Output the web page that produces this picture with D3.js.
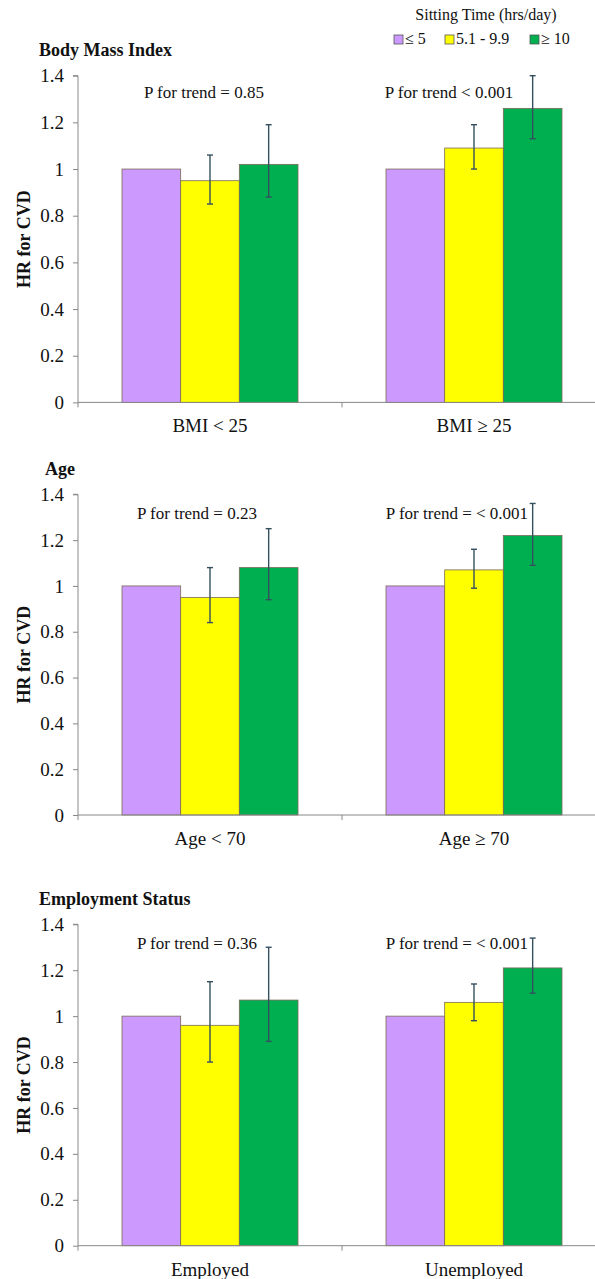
<!DOCTYPE html>
<html>
<head>
<meta charset="utf-8">
<script src="https://cdn.jsdelivr.net/npm/d3@7"></script>
<style>
body {margin: 0; background: #fff;}
svg text {font-family: "Liberation Serif", "Times New Roman", serif !important; fill: #111;}
</style>
</head>
<body>
<script>
// hazard ratios for CVD by sitting time, three stratified panels

var seriesNames = ["\u2264 5", "5.1 - 9.9", "\u2265 10"]
var seriesColors = ["#cc99ff", "#ffff00", "#00b050"]

var panelTitles = ["Body Mass Index", "Age", "Employment Status"]
var groupLabels = [["BMI < 25", "BMI \u2265 25"],
                   ["Age < 70", "Age \u2265 70"],
                   ["Employed", "Unemployed"]]

var hrValues = [[[1.00, 0.95, 1.02], [1.00, 1.09, 1.26]],
                [[1.00, 0.95, 1.08], [1.00, 1.07, 1.22]],
                [[1.00, 0.96, 1.07], [1.00, 1.06, 1.21]]]

var ciLow = [[[null, 0.85, 0.88], [null, 1.00, 1.13]],
             [[null, 0.84, 0.94], [null, 0.99, 1.09]],
             [[null, 0.80, 0.89], [null, 0.98, 1.10]]]

var ciHigh = [[[null, 1.06, 1.19], [null, 1.19, 1.40]],
              [[null, 1.08, 1.25], [null, 1.16, 1.36]],
              [[null, 1.15, 1.30], [null, 1.14, 1.34]]]

var pTrend = [["P for trend = 0.85", "P for trend < 0.001"],
              ["P for trend = 0.23", "P for trend = < 0.001"],
              ["P for trend = 0.36", "P for trend = < 0.001"]]

var yTicks = [0, 0.2, 0.4, 0.6, 0.8, 1, 1.2, 1.4]

// layout
var screen = {width: 595, height: 1279}
var panelY = [[75.7, 402.4], [494.3, 815], [924.3, 1245.7]]
var titlePos = [[39, 56], [45, 475], [39, 905]]
var pTextDx = [[-6, -25], [-13, -17], [-13, -17]]
var pTextDy = [22, 25, 25]
var xRange = [78, 606]
var serif = "'Liberation Serif', 'Times New Roman', serif"

var svg = d3.select("body")
    .append("svg")
    .attr("width", screen.width)
    .attr("height", screen.height)
    .attr("font-family", serif)

// legend
svg.append("text")
    .attr("x", 486)
    .attr("y", 20)
    .attr("text-anchor", "middle")
    .style("font-size", "16px")
    .style("font-family", serif)
    .text("Sitting Time (hrs/day)")

var legendX = [394, 445, 530]
var legend = svg.append("g").attr("id", "legend")
legend.selectAll("rect")
    .data(seriesNames)
    .enter()
    .append("rect")
    .attr("x", function(d, i) {return legendX[i]})
    .attr("y", 35)
    .attr("width", 9)
    .attr("height", 9)
    .attr("fill", function(d, i) {return seriesColors[i]})
    .attr("stroke", "#555")
    .attr("stroke-width", 0.8)
legend.selectAll("text")
    .data(seriesNames)
    .enter()
    .append("text")
    .attr("x", function(d, i) {return legendX[i] + 11})
    .attr("y", 44)
    .style("font-size", "16px")
    .style("font-family", serif)
    .text(function(d) {return d})

var drawPanel = function(p)
{
    var yScale = d3.scaleLinear()
        .domain([0, 1.4])
        .range([panelY[p][1], panelY[p][0]])

    var x0 = d3.scaleBand()
        .domain(groupLabels[p])
        .range(xRange)

    var x1 = d3.scaleBand()
        .domain(seriesNames)
        .range([0, x0.bandwidth()])
        .paddingOuter(0.75)

    var g = svg.append("g").attr("class", "panel")

    // title
    g.append("text")
        .attr("x", titlePos[p][0])
        .attr("y", titlePos[p][1])
        .style("font-size", "18px")
        .style("font-weight", "bold")
        .style("font-family", serif)
        .text(panelTitles[p])

    // y axis
    var yAxis = d3.axisLeft(yScale)
        .tickValues(yTicks)
        .tickSize(5)
        .tickPadding(9)
        .tickFormat(function(d) {return String(+d.toFixed(1))})

    var ya = g.append("g")
        .attr("transform", "translate(" + xRange[0] + ",0)")
        .call(yAxis)
        .attr("font-family", serif)
    ya.select(".domain").attr("stroke", "#888").attr("d", "M0," + yScale(0) + "V" + yScale(1.4) + "H-5")
    ya.selectAll(".tick line").attr("stroke", "#888")
    ya.selectAll(".tick text")
        .style("font-size", "19px")
        .style("font-family", serif)
        .attr("fill", "#111")

    g.append("text")
        .attr("transform", "translate(24," + ((panelY[p][0] + panelY[p][1]) / 2) + ") rotate(-90)")
        .attr("text-anchor", "middle")
        .attr("dy", "0.35em")
        .style("font-size", "18px")
        .style("font-weight", "bold")
        .style("font-family", serif)
        .text("HR for CVD")

    // bars
    var groups = g.selectAll("g.group")
        .data(groupLabels[p])
        .enter()
        .append("g")
        .attr("class", "group")
        .attr("transform", function(d) {return "translate(" + x0(d) + ",0)"})

    groups.each(function(label, gi)
    {
        var grp = d3.select(this)
        var vals = hrValues[p][gi].map(function(v, si)
        {
            return {name: seriesNames[si], hr: v, lo: ciLow[p][gi][si], hi: ciHigh[p][gi][si], color: seriesColors[si]}
        })

        grp.selectAll("rect")
            .data(vals)
            .enter()
            .append("rect")
            .attr("x", function(d) {return x1(d.name)})
            .attr("y", function(d) {return yScale(d.hr)})
            .attr("width", x1.bandwidth())
            .attr("height", function(d) {return yScale(0) - yScale(d.hr)})
            .attr("fill", function(d) {return d.color})
            .attr("stroke", "#7a6a5a")
            .attr("stroke-width", 0.8)

        var errs = vals.filter(function(d) {return d.lo != null})
        var eb = grp.selectAll("g.err")
            .data(errs)
            .enter()
            .append("g")
            .attr("class", "err")
            .attr("stroke", "#34505f")
            .attr("stroke-width", 1.4)
        eb.append("line")
            .attr("x1", function(d) {return x1(d.name) + x1.bandwidth() / 2})
            .attr("x2", function(d) {return x1(d.name) + x1.bandwidth() / 2})
            .attr("y1", function(d) {return yScale(d.lo)})
            .attr("y2", function(d) {return yScale(d.hi)})
        eb.selectAll("line.cap")
            .data(function(d) {return [[d, d.lo], [d, d.hi]]})
            .enter()
            .append("line")
            .attr("class", "cap")
            .attr("x1", function(c) {return x1(c[0].name) + x1.bandwidth() / 2 - 3})
            .attr("x2", function(c) {return x1(c[0].name) + x1.bandwidth() / 2 + 3})
            .attr("y1", function(c) {return yScale(c[1])})
            .attr("y2", function(c) {return yScale(c[1])})

        grp.append("text")
            .attr("x", x0.bandwidth() / 2 + pTextDx[p][gi])
            .attr("y", panelY[p][0] + pTextDy[p])
            .attr("text-anchor", "middle")
            .style("font-size", "17px")
            .style("font-family", serif)
            .text(pTrend[p][gi])

        grp.append("text")
            .attr("x", x0.bandwidth() / 2)
            .attr("y", yScale(0) + 30)
            .attr("text-anchor", "middle")
            .style("font-size", "19px")
            .style("font-family", serif)
            .text(label)
    })

    // x axis
    g.append("line")
        .attr("x1", xRange[0])
        .attr("x2", xRange[1])
        .attr("y1", yScale(0))
        .attr("y2", yScale(0))
        .attr("stroke", "#888")
    g.selectAll("line.xtick")
        .data(groupLabels[p])
        .enter()
        .append("line")
        .attr("class", "xtick")
        .attr("x1", function(d) {return x0(d)})
        .attr("x2", function(d) {return x0(d)})
        .attr("y1", yScale(0))
        .attr("y2", yScale(0) + 5)
        .attr("stroke", "#888")
}

for (var p = 0; p < panelTitles.length; p++)
{
    drawPanel(p)
}
</script>
</body>
</html>
